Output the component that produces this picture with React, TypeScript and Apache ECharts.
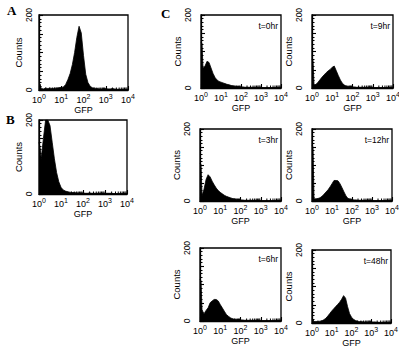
import React, { useEffect, useRef } from "react";
import * as echarts from "echarts";

// Channel positions in log10(GFP): a half-width first bin for the edge pile-up,
// then 0.1-decade bins up to 10^4.
const CHANNELS = [0, 0.05, ...Array.from({ length: 40 }, (_, i) => (i + 1) / 10)];

// Counts per channel
const countsA = [18, 16, 4, 3, 5, 4, 5, 4, 5, 5, 6, 7, 8, 15, 28, 44, 68, 100, 140, 170, 152, 92, 42, 20, 10, 6, 5, 4, 3, 3, 3, 4, 3, 3, 4, 3, 2, 2, 2, 2, 1, 1];
const countsB = [140, 125, 95, 150, 200, 200, 185, 140, 95, 58, 33, 18, 11, 8, 6, 5, 4, 4, 3, 3, 3, 3, 2, 2, 3, 2, 2, 2, 2, 2, 2, 2, 2, 2, 2, 1, 1, 1, 1, 1, 1, 1];
const countsT0 = [125, 122, 54, 60, 73, 70, 55, 40, 29, 22, 18, 16, 14, 12, 10, 9, 7, 6, 5, 4, 4, 3, 3, 2, 2, 2, 2, 2, 2, 2, 1, 2, 1, 1, 1, 1, 1, 1, 1, 1, 1, 1];
const countsT9 = [78, 75, 8, 10, 16, 23, 30, 36, 42, 47, 51, 57, 60, 47, 34, 22, 13, 8, 5, 4, 3, 3, 3, 2, 2, 2, 2, 2, 2, 2, 2, 2, 1, 1, 1, 1, 1, 1, 1, 1, 1, 1];
const countsT3 = [105, 102, 15, 33, 60, 73, 67, 55, 45, 36, 29, 24, 20, 16, 13, 11, 9, 7, 6, 5, 4, 3, 3, 2, 2, 2, 2, 2, 2, 2, 2, 1, 1, 1, 1, 1, 1, 1, 1, 1, 1, 1];
const countsT12 = [155, 150, 6, 6, 7, 9, 13, 19, 25, 31, 39, 48, 57, 57, 56, 48, 37, 25, 14, 7, 5, 4, 3, 3, 2, 2, 2, 2, 2, 2, 2, 2, 1, 1, 1, 1, 1, 1, 1, 1, 1, 1];
const countsT6 = [114, 110, 30, 20, 29, 36, 50, 55, 59, 59, 55, 45, 36, 27, 18, 13, 9, 6, 5, 4, 4, 3, 3, 2, 2, 2, 2, 2, 2, 2, 2, 1, 1, 1, 1, 1, 1, 1, 1, 1, 1, 1];
const countsT48 = [12, 10, 4, 4, 4, 5, 6, 9, 13, 19, 26, 33, 39, 45, 51, 57, 65, 75, 68, 45, 26, 16, 10, 7, 5, 4, 4, 3, 3, 3, 3, 3, 3, 3, 2, 2, 2, 2, 2, 1, 1, 1];

const TIME_LABELS = ["t=0hr", "t=9hr", "t=3hr", "t=12hr", "t=6hr", "t=48hr"];
const PANEL_LETTERS = ["A", "B", "C"];
const X_DECADES = [0, 1, 2, 3, 4];
const Y_LABELED = [0, 200];

// Log minor tick positions (2..9 within each decade)
const MINOR_TICKS: number[] = [];
for (let d = 0; d < 4; d++) {
  for (let k = 2; k <= 9; k++) MINOR_TICKS.push(d + Math.log10(k));
}

const SANS = "'Liberation Sans', Arial, Helvetica, sans-serif";
const SERIF = "'Liberation Serif', 'Times New Roman', serif";

type Panel = {
  counts: number[];
  box: { left: number; top: number; width: number; height: number };
  yLabelGap: number;
  yNameGap: number;
  tag?: string;
};

const PANELS: Panel[] = [
  { counts: countsA, box: { left: 39, top: 15, width: 89, height: 75 }, yLabelGap: 6, yNameGap: 14 },
  { counts: countsB, box: { left: 39, top: 120, width: 88, height: 74 }, yLabelGap: 6, yNameGap: 14 },
  { counts: countsT0, box: { left: 201, top: 15, width: 80, height: 73 }, yLabelGap: 9, yNameGap: 16 },
  { counts: countsT9, box: { left: 312, top: 15, width: 81, height: 73 }, yLabelGap: 9, yNameGap: 15 },
  { counts: countsT3, box: { left: 200, top: 129, width: 81, height: 72 }, yLabelGap: 9, yNameGap: 16 },
  { counts: countsT12, box: { left: 312, top: 129, width: 80, height: 72 }, yLabelGap: 9, yNameGap: 15 },
  { counts: countsT6, box: { left: 200, top: 248, width: 81, height: 73 }, yLabelGap: 9, yNameGap: 16 },
  { counts: countsT48, box: { left: 312, top: 250, width: 79, height: 73 }, yLabelGap: 9, yNameGap: 15 },
].map((p, i) => (i >= 2 ? { ...p, tag: TIME_LABELS[i - 2] } : p));

function buildOption(): echarts.EChartsOption {
  const grid = PANELS.map((p) => ({
    left: p.box.left,
    top: p.box.top,
    width: p.box.width,
    height: p.box.height,
    show: true,
    borderColor: "#000",
    borderWidth: 1.3,
    backgroundColor: "transparent",
    containLabel: false,
    outerBoundsMode: "none",
  }));

  const xAxis = PANELS.map((_, i) => ({
    type: "value",
    gridIndex: i,
    min: X_DECADES[0],
    max: X_DECADES[X_DECADES.length - 1],
    interval: 1,
    axisLine: { show: true, lineStyle: { color: "#000", width: 1.3 } },
    axisTick: { show: true, inside: true, length: 4, lineStyle: { color: "#000", width: 1.1 } },
    splitLine: { show: false },
    axisLabel: {
      margin: 3,
      formatter: (v: number) => `{b|10}{s|${v}}`,
      rich: {
        b: { fontFamily: SANS, fontSize: 9, color: "#000", lineHeight: 11, verticalAlign: "bottom" },
        s: { fontFamily: SANS, fontSize: 7, color: "#000", lineHeight: 7, verticalAlign: "top" },
      },
    },
    name: "GFP",
    nameLocation: "middle",
    nameGap: 15,
    nameTextStyle: { fontFamily: SANS, fontSize: 9, color: "#000" },
  }));

  const yAxis = PANELS.map((p, i) => ({
    type: "value",
    gridIndex: i,
    min: 0,
    max: 200,
    interval: 50,
    axisLine: { show: true, lineStyle: { color: "#000", width: 1.3 } },
    axisTick: { show: true, inside: true, length: 4, lineStyle: { color: "#000", width: 1.1 } },
    minorTick: { show: true, splitNumber: 5, length: 2.5, lineStyle: { color: "#000", width: 1 } },
    splitLine: { show: false },
    axisLabel: {
      rotate: 90,
      margin: p.yLabelGap,
      fontFamily: SANS,
      fontSize: 8.5,
      color: "#000",
      formatter: (v: number) => (Y_LABELED.includes(v) ? String(v) : ""),
    },
    name: "Counts",
    nameLocation: "middle",
    nameGap: p.yNameGap,
    nameTextStyle: { fontFamily: SANS, fontSize: 9.5, color: "#000" },
  }));

  const series: any[] = [];
  PANELS.forEach((p, i) => {
    series.push({
      type: "line",
      xAxisIndex: i,
      yAxisIndex: i,
      data: CHANNELS.map((x, j) => [x, p.counts[j]]),
      symbol: "none",
      silent: true,
      clip: true,
      lineStyle: { color: "#000", width: 0.8 },
      areaStyle: { color: "#000", opacity: 1 },
    });
    series.push({
      type: "custom",
      xAxisIndex: i,
      yAxisIndex: i,
      silent: true,
      clip: false,
      data: MINOR_TICKS.map((t) => [t, 0]),
      encode: { x: 0, y: 1 },
      renderItem: (_params: any, api: any) => {
        const pt = api.coord([api.value(0), 0]);
        return {
          type: "line",
          shape: { x1: pt[0], y1: pt[1], x2: pt[0], y2: pt[1] - 2.5 },
          style: { stroke: "#000", lineWidth: 1 },
        };
      },
    });
  });

  const graphic: any[] = [
    { type: "text", left: 7, top: 4, style: { text: PANEL_LETTERS[0], font: `bold 13px ${SERIF}`, fill: "#000" } },
    { type: "text", left: 6, top: 113, style: { text: PANEL_LETTERS[1], font: `bold 13px ${SERIF}`, fill: "#000" } },
    { type: "text", left: 161, top: 7, style: { text: PANEL_LETTERS[2], font: `bold 13px ${SERIF}`, fill: "#000" } },
  ];
  PANELS.forEach((p) => {
    if (!p.tag) return;
    graphic.push({
      type: "text",
      x: p.box.left + p.box.width - 3,
      y: p.box.top + 10.5,
      style: {
        text: p.tag,
        font: `8.5px ${SANS}`,
        fill: "#000",
        align: "right",
        verticalAlign: "middle",
      },
    });
  });

  return {
    animation: false,
    backgroundColor: "#fff",
    grid,
    xAxis,
    yAxis,
    series,
    graphic,
  } as any;
}

export default function App() {
  const ref = useRef<HTMLDivElement>(null);
  useEffect(() => {
    if (!ref.current) return;
    const chart = echarts.init(ref.current, undefined, { renderer: "svg" });
    chart.setOption(buildOption());
    return () => chart.dispose();
  }, []);
  return (
    <div
      ref={ref}
      style={{ position: "fixed", left: 0, top: 0, width: 399, height: 350, background: "#fff" }}
    />
  );
}
